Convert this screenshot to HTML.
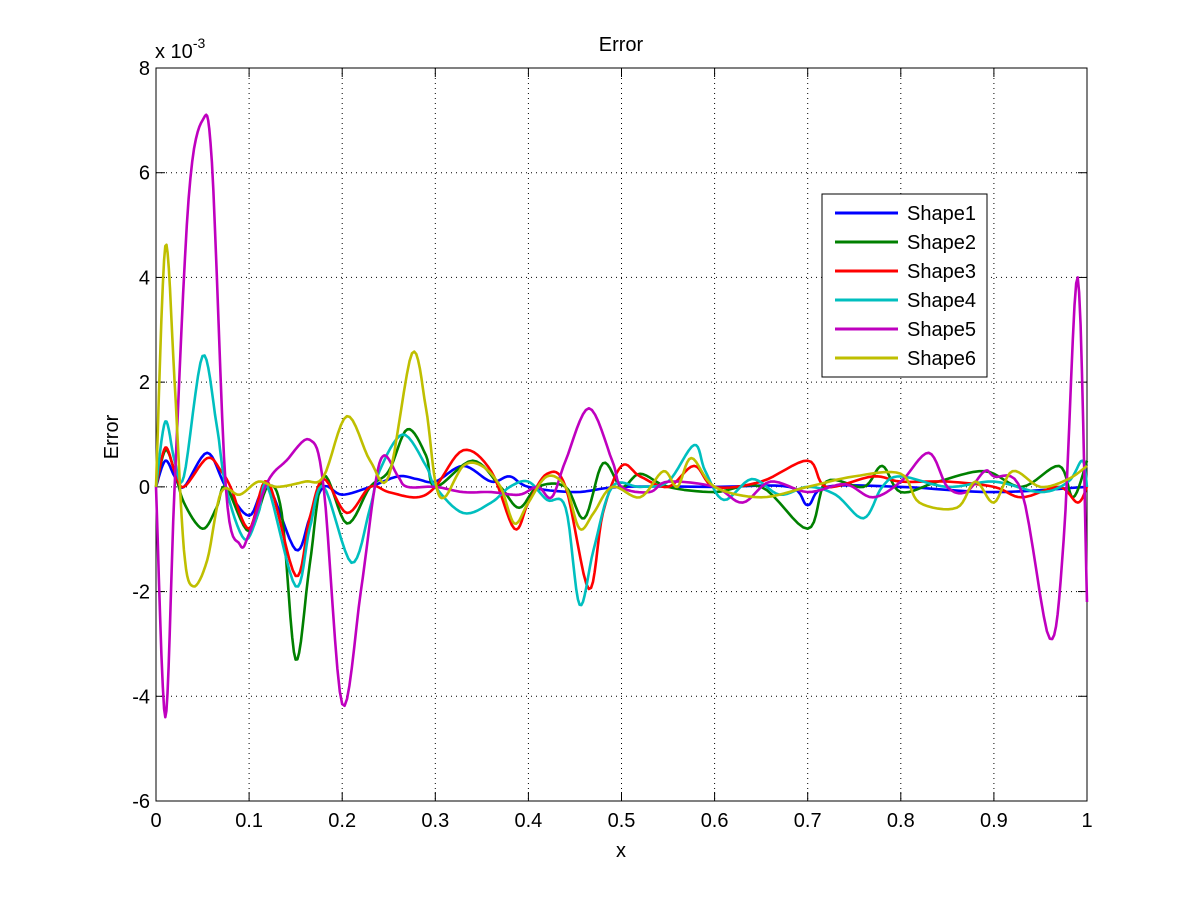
<!DOCTYPE html>
<html><head><meta charset="utf-8"><style>
body{margin:0;background:#fff;}
svg{display:block;font-family:"Liberation Sans",sans-serif;}
</style></head><body>
<svg id="s" width="1201" height="901" xmlns="http://www.w3.org/2000/svg">
<rect width="1201" height="901" fill="#fff"/>
<g id="grid" stroke="#000" stroke-width="1" stroke-dasharray="1,4"></g>
<rect x="156" y="68" width="931" height="733" fill="none" stroke="#000" stroke-width="1"/>
<g id="ticks" stroke="#000"></g>
<g id="labels" font-size="20" fill="#000"></g>
<g id="series" fill="none" stroke-width="2.6" stroke-linejoin="round"></g>
<text x="621" y="51" font-size="20" text-anchor="middle">Error</text>
<text x="621" y="857" font-size="20" text-anchor="middle">x</text>
<text x="0" y="0" font-size="20" text-anchor="middle" transform="translate(118,437) rotate(-90)">Error</text>
<text x="155" y="58" font-size="20">x 10<tspan dy="-10" font-size="14">-3</tspan></text>
<rect x="822" y="194" width="165" height="183" fill="#fff" stroke="#000"/>
<g id="legend" font-size="20"></g>
</svg>
<script>
var NS="http://www.w3.org/2000/svg";
function el(t,a,p,txt){var e=document.createElementNS(NS,t);for(var k in a)e.setAttribute(k,a[k]);if(txt!=null)e.textContent=txt;document.getElementById(p).appendChild(e);return e;}
var L=156,R=1087,T=68,B=801;
function X(x){return L+x*(R-L);}
function Y(v){return B-(v+6)/14*(B-T);}
for(var i=1;i<10;i++){var x=X(i/10);el("line",{x1:x,y1:T,x2:x,y2:B},"grid");}
for(var v=-4;v<=6;v+=2){var y=Y(v);el("line",{x1:L,y1:y,x2:R,y2:y},"grid");}
for(var i=0;i<=10;i++){var x=X(i/10);el("line",{x1:x,y1:B,x2:x,y2:B-9},"ticks");el("line",{x1:x,y1:T,x2:x,y2:T+9},"ticks");
 el("text",{x:x,y:B+26,"text-anchor":"middle"},"labels",i==0?"0":i==10?"1":"0."+i);}
for(var v=-6;v<=8;v+=2){var y=Y(v);el("line",{x1:L,y1:y,x2:L+9,y2:y},"ticks");el("line",{x1:R,y1:y,x2:R-9,y2:y},"ticks");
 el("text",{x:L-6,y:y+7,"text-anchor":"end"},"labels",String(v));}
var S=[
["#0000ff","Shape1",[0,0,.01,.5,.02,.2,.03,0,.055,.65,.075,0,.1,-.55,.12,0,.15,-1.2,.165,-.6,.18,0,.2,-.15,.23,0,.26,.2,.28,.15,.3,.1,.33,.4,.36,.1,.38,.2,.4,0,.45,-.1,.5,0,.6,0,.68,0,.7,-.35,.72,0,.8,0,.9,-.1,1,0]],
["#008000","Shape2",[0,0,.01,.7,.02,.3,.03,-.3,.05,-.8,.065,-.4,.075,0,.1,-.85,.12,0,.135,-.5,.15,-3.3,.165,-1.5,.18,.2,.205,-.7,.23,0,.25,.3,.27,1.1,.29,.6,.3,0,.34,.5,.37,0,.39,-.4,.41,0,.44,0,.46,-.6,.48,.45,.5,0,.52,.25,.55,0,.6,-.1,.65,0,.7,-.8,.72,.1,.76,0,.78,.4,.8,-.1,.84,.1,.89,.3,.93,0,.97,.4,.985,-.2,1,.5]],
["#ff0000","Shape3",[0,0,.01,.75,.02,.3,.03,0,.055,.55,.07,.3,.08,0,.1,-.8,.12,.1,.15,-1.7,.165,-.6,.18,.15,.205,-.5,.23,0,.25,-.1,.28,-.2,.3,0,.33,.7,.36,.3,.385,-.8,.4,-.3,.42,.25,.44,0,.465,-1.95,.48,-.5,.5,.4,.52,.2,.55,0,.578,.4,.6,0,.65,.1,.7,.5,.72,0,.77,.2,.8,.1,.85,.1,.9,0,.93,-.2,.97,0,.99,-.3,1,0]],
["#00bfbf","Shape4",[0,0,.01,1.25,.02,.5,.03,.2,.05,2.5,.065,1.2,.075,0,.095,-1,.11,-.5,.12,0,.15,-1.9,.165,-.8,.18,0,.21,-1.45,.23,-.4,.24,.3,.265,1,.29,.4,.3,0,.33,-.5,.36,-.3,.38,0,.4,.1,.42,-.25,.44,-.4,.455,-2.25,.47,-1.2,.49,0,.52,0,.55,.1,.578,.8,.59,.3,.61,-.25,.64,.15,.67,-.15,.7,0,.73,-.15,.76,-.6,.78,0,.8,.2,.85,0,.9,.1,.95,-.1,.98,.1,.995,.5,1,0]],
["#bf00bf","Shape5",[0,0,.01,-4.4,.02,0,.035,5.5,.05,7,.06,6.2,.075,0,.09,-1.1,.1,-.9,.12,.1,.14,.5,.165,.9,.18,0,.2,-4.15,.22,-2,.235,0,.245,.6,.26,.2,.27,0,.3,0,.33,-.1,.36,-.1,.39,-.15,.41,0,.425,-.2,.44,.5,.465,1.5,.49,.5,.5,0,.53,-.1,.55,.1,.6,0,.63,-.3,.66,.1,.7,-.1,.74,.05,.77,-.2,.8,.1,.83,.65,.85,0,.87,-.1,.89,.3,.9,.2,.93,-.1,.96,-2.9,.975,-1,.99,4,1,-2.2]],
["#bfbf00","Shape6",[0,0,.01,4.6,.02,2,.03,-1.2,.04,-1.9,.055,-1.4,.07,-.1,.09,-.15,.11,.1,.13,0,.16,.1,.18,.2,.205,1.35,.23,.5,.25,.2,.275,2.55,.29,1.5,.3,.1,.31,-.2,.33,.4,.35,.4,.37,0,.385,-.7,.4,-.3,.42,.2,.44,0,.455,-.8,.47,-.5,.49,0,.52,-.2,.545,.3,.56,0,.575,.55,.6,0,.65,-.2,.7,0,.75,.2,.8,.25,.82,-.3,.86,-.4,.88,.1,.9,-.3,.92,.3,.95,0,.98,.15,1,.4]]
];
S.forEach(function(s,k){
 var p=s[2],pts=[];for(var i=0;i<p.length;i+=2)pts.push([X(p[i]),Y(p[i+1])]);
 var d="M"+pts[0][0]+","+pts[0][1];
 for(var i=0;i<pts.length-1;i++){var p0=pts[i-1]||pts[i],p1=pts[i],p2=pts[i+1],p3=pts[i+2]||p2;
  for(var t=1;t<=8;t++){var u=t/8,u2=u*u,u3=u2*u;
   var x=0.5*((2*p1[0])+(-p0[0]+p2[0])*u+(2*p0[0]-5*p1[0]+4*p2[0]-p3[0])*u2+(-p0[0]+3*p1[0]-3*p2[0]+p3[0])*u3);
   var y=0.5*((2*p1[1])+(-p0[1]+p2[1])*u+(2*p0[1]-5*p1[1]+4*p2[1]-p3[1])*u2+(-p0[1]+3*p1[1]-3*p2[1]+p3[1])*u3);
   x=Math.max(p1[0],Math.min(p2[0],x));
   d+=" L"+x.toFixed(1)+","+y.toFixed(1);}}
 el("path",{d:d,stroke:s[0]},"series");
 var ly=213+k*29;
 el("line",{x1:835,y1:ly,x2:898,y2:ly,stroke:s[0],"stroke-width":3},"legend");
 el("text",{x:907,y:ly+7},"legend",s[1]);
});
</script>
</body></html>
